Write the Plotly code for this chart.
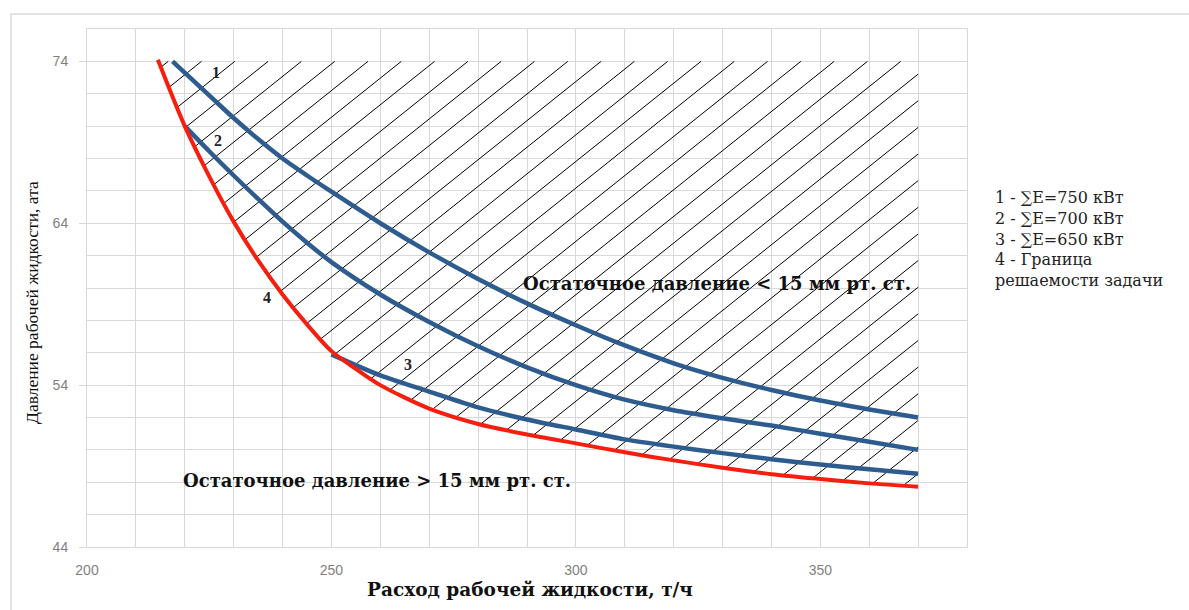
import numpy as np
import plotly.graph_objects as go

# ---- data ----
red_x = [214.5, 220, 225, 230, 235, 240, 245, 250, 255, 260, 270, 280, 290, 300, 310, 320, 330, 340, 350, 360, 370]
red_y = [74.1, 70.0, 66.9, 64.1, 61.7, 59.6, 57.75, 56.1, 55.0, 54.0, 52.55, 51.6, 50.95, 50.4, 49.85, 49.35, 48.9, 48.5, 48.2, 47.93, 47.72]

b1_x = [217.5, 225, 230, 235, 240, 245, 250, 260, 270, 280, 290, 300, 310, 320, 330, 340, 350, 360, 370]
b1_y = [74.0, 71.9, 70.5, 69.2, 68.0, 66.95, 65.95, 64.0, 62.2, 60.55, 59.05, 57.7, 56.45, 55.35, 54.45, 53.7, 53.05, 52.5, 52.0]

b2_x = [220, 225, 230, 235, 240, 245, 250, 260, 270, 280, 290, 300, 310, 320, 330, 340, 350, 360, 370]
b2_y = [70.0, 68.45, 66.95, 65.5, 64.1, 62.8, 61.6, 59.6, 57.9, 56.4, 55.1, 54.0, 53.1, 52.45, 51.95, 51.5, 51.0, 50.5, 50.0]

b3_x = [250, 260, 270, 280, 290, 300, 310, 320, 330, 340, 350, 360, 370]
b3_y = [55.9, 54.6, 53.6, 52.62, 51.88, 51.26, 50.65, 50.2, 49.8, 49.42, 49.1, 48.8, 48.52]

legend_lines = ["1 - ∑E=750 кВт", "2 - ∑E=700 кВт", "3 - ∑E=650 кВт", "4 - Граница", "решаемости задачи"]
curve_labels = ["1", "2", "3", "4"]
x_ticks = [200, 250, 300, 350]
y_ticks = [44, 54, 64, 74]

X_RANGE = [200, 380]
Y_RANGE = [44, 76]
HATCH_TOP = 74
HATCH_RIGHT = 370

RED = "#f61e0e"
BLUE = "#2e5c8f"
GRID = "#d9d9d9"

# ---- plot geometry (pixels) ----
W, H = 1189, 610
ML, MR, MT, MB = 87, 222, 29, 63
PW, PH = W - ML - MR, H - MT - MB
px_per_x = PW / (X_RANGE[1] - X_RANGE[0])
px_per_y = PH / (Y_RANGE[1] - Y_RANGE[0])


def px_x(p):
    return (p - ML) / PW


def px_y(p):
    return (MT + PH - p) / PH


# ---- hatch lines (computed against the red boundary curve) ----
pix_slope = 0.8                      # hatch angle in screen space
s = pix_slope * px_per_x / px_per_y  # slope in data units
step = 33.3 / px_per_x               # horizontal spacing of hatch lines
xs = np.linspace(red_x[0], red_x[-1], 4000)
ys = np.interp(xs, red_x, red_y)
hx, hy = [], []
xk = 216.6
while True:
    if xk <= HATCH_RIGHT:
        x0, y0 = xk, HATCH_TOP
    else:
        x0, y0 = HATCH_RIGHT, HATCH_TOP - s * (xk - HATCH_RIGHT)
        if y0 <= np.interp(HATCH_RIGHT, red_x, red_y):
            break
    f = HATCH_TOP + s * (xs - xk) - ys
    idx = np.where((f <= 0) & (xs <= x0))[0]
    if len(idx):
        i = idx.max()
        x1 = xs[i]
        y1 = HATCH_TOP + s * (x1 - xk)
        hx += [x1, x0, None]
        hy += [y1, y0, None]
    xk += step

fig = go.Figure()
fig.add_trace(go.Scatter(x=hx, y=hy, mode="lines", line=dict(color="black", width=1),
                         hoverinfo="skip", showlegend=False))
for xx, yy in [(b1_x, b1_y), (b2_x, b2_y), (b3_x, b3_y)]:
    fig.add_trace(go.Scatter(x=xx, y=yy, mode="lines",
                             line=dict(color=BLUE, width=4.5, shape="spline", smoothing=0.8),
                             showlegend=False))
fig.add_trace(go.Scatter(x=red_x, y=red_y, mode="lines",
                         line=dict(color=RED, width=4, shape="spline", smoothing=0.8),
                         showlegend=False))

ann = []
# curve number labels
lab_pos = [(226.4, 73.3), (226.8, 69.1), (265.7, 55.25), (236.8, 59.4)]
for t, (ax_, ay_) in zip(curve_labels, lab_pos):
    ann.append(dict(x=ax_, y=ay_, xref="x", yref="y", text=f"<b>{t}</b>", showarrow=False,
                    xanchor="center", yanchor="middle",
                    font=dict(family="Liberation Serif", size=16, color="#222")))
# region annotations
ann.append(dict(x=px_x(717), y=px_y(283), xref="paper", yref="paper",
                text="<b>Остаточное давление &lt; 15 мм рт. ст.</b>", showarrow=False,
                xanchor="center", yanchor="middle",
                font=dict(family="DejaVu Serif", size=18, color="#111")))
ann.append(dict(x=px_x(377), y=px_y(480), xref="paper", yref="paper",
                text="<b>Остаточное давление &gt; 15 мм рт. ст.</b>", showarrow=False,
                xanchor="center", yanchor="middle",
                font=dict(family="DejaVu Serif", size=18, color="#111")))
# legend text (one block, left aligned)
ann.append(dict(x=px_x(993), y=px_y(238.5), xref="paper", yref="paper",
                text="<br>".join(legend_lines), showarrow=False, xanchor="left", yanchor="middle",
                align="left",
                font=dict(family="DejaVu Serif", size=16, color="#222")))
# axis titles
ann.append(dict(x=px_x(530), y=px_y(589), xref="paper", yref="paper",
                text="<b>Расход рабочей жидкости, т/ч</b>", showarrow=False,
                xanchor="center", yanchor="middle",
                font=dict(family="DejaVu Serif", size=18.5, color="#111")))
ann.append(dict(x=px_x(32), y=px_y(303), xref="paper", yref="paper",
                text="Давление рабочей жидкости, ата", showarrow=False, textangle=-90,
                xanchor="center", yanchor="middle",
                font=dict(family="Liberation Serif", size=17.5, color="#111")))

fig.update_layout(
    width=W, height=H,
    margin=dict(l=ML, r=MR, t=MT, b=MB),
    paper_bgcolor="white", plot_bgcolor="white",
    annotations=ann,
    shapes=[dict(type="rect", xref="paper", yref="paper",
                 x0=px_x(11), x1=1.5, y0=-0.5, y1=px_y(14),
                 line=dict(color=GRID, width=1.5), layer="below")],
    xaxis=dict(range=X_RANGE, tickmode="array", tickvals=x_ticks, ticktext=[str(v) for v in x_ticks],
               showgrid=True, gridcolor=GRID, gridwidth=1, zeroline=False,
               showline=True, mirror=True, linecolor=GRID, linewidth=1, ticks="",
               minor=dict(dtick=10, tick0=200, showgrid=True, gridcolor=GRID, gridwidth=1),
               tickfont=dict(family="Liberation Sans", size=14, color="#7f7f7f"),
               ticklabelstandoff=10),
    yaxis=dict(range=Y_RANGE, tickmode="array", tickvals=y_ticks, ticktext=[str(v) for v in y_ticks],
               showgrid=True, gridcolor=GRID, gridwidth=1, zeroline=False,
               showline=True, mirror=True, linecolor=GRID, linewidth=1,
               ticks="outside", ticklen=7, tickcolor=GRID,
               minor=dict(dtick=2, tick0=44, showgrid=True, gridcolor=GRID, gridwidth=1),
               tickfont=dict(family="Liberation Sans", size=14, color="#7f7f7f"),
               ticklabelstandoff=8),
)

fig.write_html("out.html")
